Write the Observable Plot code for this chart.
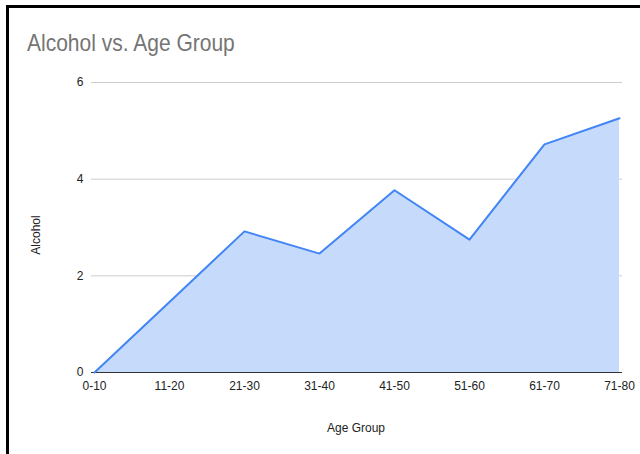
<!DOCTYPE html>
<html>
<head>
<meta charset="utf-8">
<script src="https://cdn.jsdelivr.net/npm/d3@7"></script>
<script src="https://cdn.jsdelivr.net/npm/@observablehq/plot@0.6"></script>
<style>
  html, body { margin: 0; padding: 0; background: #fff; }
  #wrap { position: relative; width: 640px; height: 454px; overflow: hidden; background: #fff; font-family: "Liberation Sans", Arial, sans-serif; }
  #frame { position: absolute; left: 6px; top: 5px; width: 700px; height: 500px; border-left: 3px solid #000; border-top: 3px solid #000; box-sizing: border-box; pointer-events: none; }
  #title { position: absolute; left: 27px; top: 29px; font-size: 24px; color: #757575; white-space: nowrap; transform: scaleX(0.875); transform-origin: left top; }
  #xlabel { position: absolute; left: 0; width: 712px; top: 421px; font-size: 12px; color: #222; text-align: center; transform: scaleY(1.1); }
  #ylabel { position: absolute; left: 36px; top: 235px; font-size: 12px; color: #222; transform: translate(-50%, -50%) rotate(-90deg); white-space: nowrap; }
  #chart svg { display: block; }
  #chart svg text { font-size: 12px; }
</style>
</head>
<body>
<div id="wrap">
  <div id="chart"></div>
  <div id="frame"></div>
  <div id="title">Alcohol vs. Age Group</div>
  <div id="ylabel">Alcohol</div>
  <div id="xlabel">Age Group</div>
</div>
<script>
const ageGroups = ["0-10", "11-20", "21-30", "31-40", "41-50", "51-60", "61-70", "71-80"];
const alcohol = [0, 1.46, 2.92, 2.46, 3.77, 2.75, 4.72, 5.26];
const yTicks = [0, 2, 4, 6];

const data = ageGroups.map((g, i) => ({group: g, value: alcohol[i]}));

const chart = Plot.plot({
  width: 640,
  height: 454,
  marginLeft: 91,
  marginRight: 18,
  marginTop: 82,
  marginBottom: 82,
  style: {fontFamily: "'Liberation Sans', Arial, sans-serif", fontSize: "12px", color: "#222", background: "transparent"},
  x: {type: "point", domain: ageGroups, padding: 0, label: null},
  y: {domain: [0, 6], label: null},
  marks: [
    Plot.gridY(yTicks.filter(t => t !== 0), {stroke: "#cccccc", strokeOpacity: 1, strokeWidth: 1}),
    Plot.areaY(data, {x: "group", y: "value", fill: "#c6dafc", fillOpacity: 1}),
    Plot.ruleY([0], {stroke: "#333", strokeWidth: 1}),
    Plot.lineY(data, {x: "group", y: "value", stroke: "#4285f4", strokeWidth: 2}),
    Plot.axisY(yTicks, {tickSize: 0, tickPadding: 8, label: null, fill: "#222", fontSize: 12}),
    Plot.axisX(ageGroups, {tickSize: 0, tickPadding: 9, label: null, fill: "#222", fontSize: 12})
  ]
});
document.getElementById("chart").appendChild(chart);
</script>
</body>
</html>
